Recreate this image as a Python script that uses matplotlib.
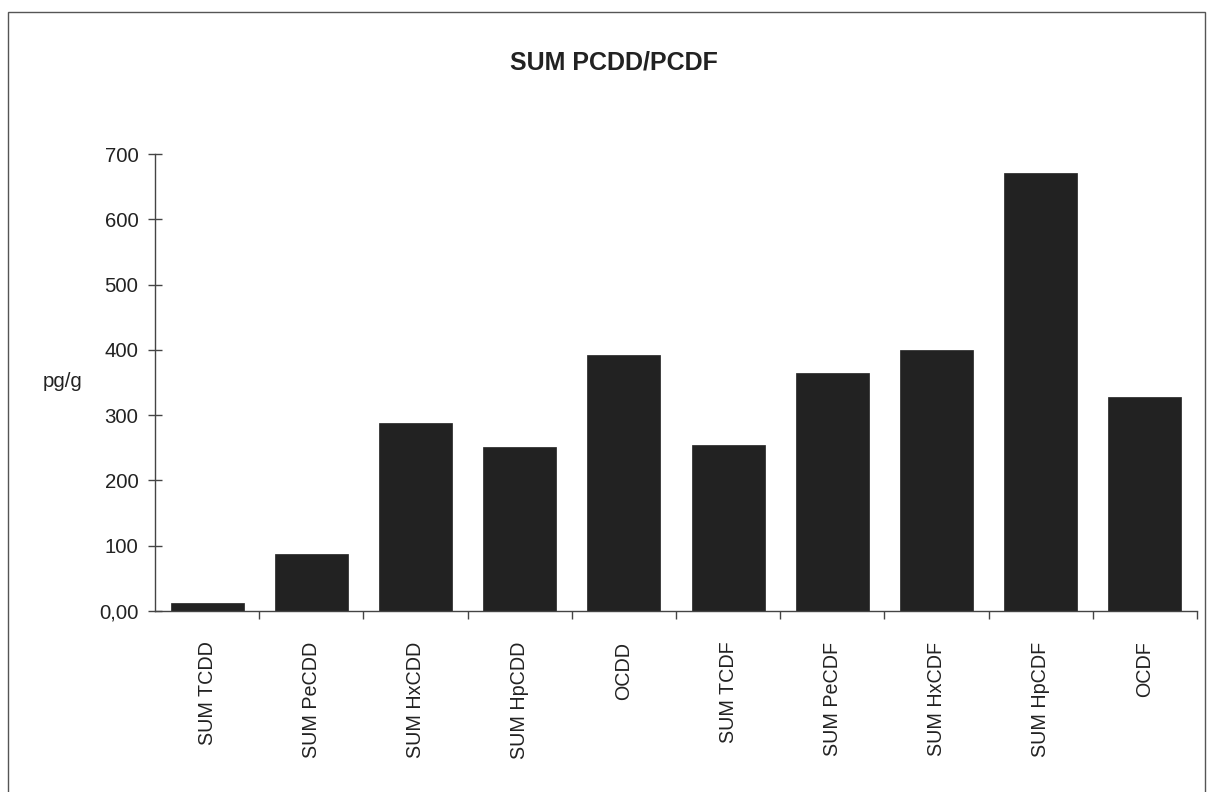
import matplotlib
matplotlib.use("Agg")
import matplotlib.pyplot as plt
from matplotlib.patches import Rectangle
from matplotlib.ticker import FixedLocator

categories = ["SUM TCDD", "SUM PeCDD", "SUM HxCDD", "SUM HpCDD", "OCDD",
              "SUM TCDF", "SUM PeCDF", "SUM HxCDF", "SUM HpCDF", "OCDF"]
values = [12, 88, 288, 251, 392, 254, 364, 400, 671, 328]
yticks = [0, 100, 200, 300, 400, 500, 600, 700]
ytick_labels = ["0,00", "100", "200", "300", "400", "500", "600", "700"]

plt.rcParams['font.family'] = ['Liberation Sans', 'DejaVu Sans']

fig = plt.figure(figsize=(12.11, 7.92), dpi=100)
ax = fig.add_axes([155/1211, 1-611/792, (1197-155)/1211, (611-154)/792])

x = list(range(len(categories)))
ax.bar(x, values, width=0.7, color="#222222", edgecolor="#222222", linewidth=0.5)
ax.set_xlim(-0.5, len(categories) - 0.5)
ax.set_ylim(0, 700)

for s in ["top", "right"]:
    ax.spines[s].set_visible(False)
for s in ["left", "bottom"]:
    ax.spines[s].set_color("#444444")
    ax.spines[s].set_linewidth(1.0)

ax.set_yticks(yticks)
ax.set_yticklabels(ytick_labels, fontsize=14.7, color="#222222")
ax.tick_params(axis="y", direction="inout", length=10, width=1, color="#444444", pad=7)

ax.set_xticks(x)
ax.set_xticklabels(categories, rotation=90, fontsize=14.2, color="#222222")
ax.tick_params(axis="x", length=0, pad=22)
ax.xaxis.set_minor_locator(FixedLocator([i + 0.5 for i in range(len(categories))]))
ax.tick_params(axis="x", which="minor", direction="out", length=6, width=1, color="#444444")

fig.text(43/1211, 1-387/792, "pg/g", fontsize=14.7, ha="left", va="baseline", color="#222222")
fig.text(614/1211, 1-63/792, "SUM PCDD/PCDF", fontsize=18, fontweight="bold",
         ha="center", va="center", color="#222222")

fig.add_artist(Rectangle((8/1211, -0.01), (1205-8)/1211, 1-12/792 + 0.01,
                         transform=fig.transFigure, fill=False,
                         edgecolor="#555555", linewidth=1.0))

fig.savefig("out.png", dpi=100)
